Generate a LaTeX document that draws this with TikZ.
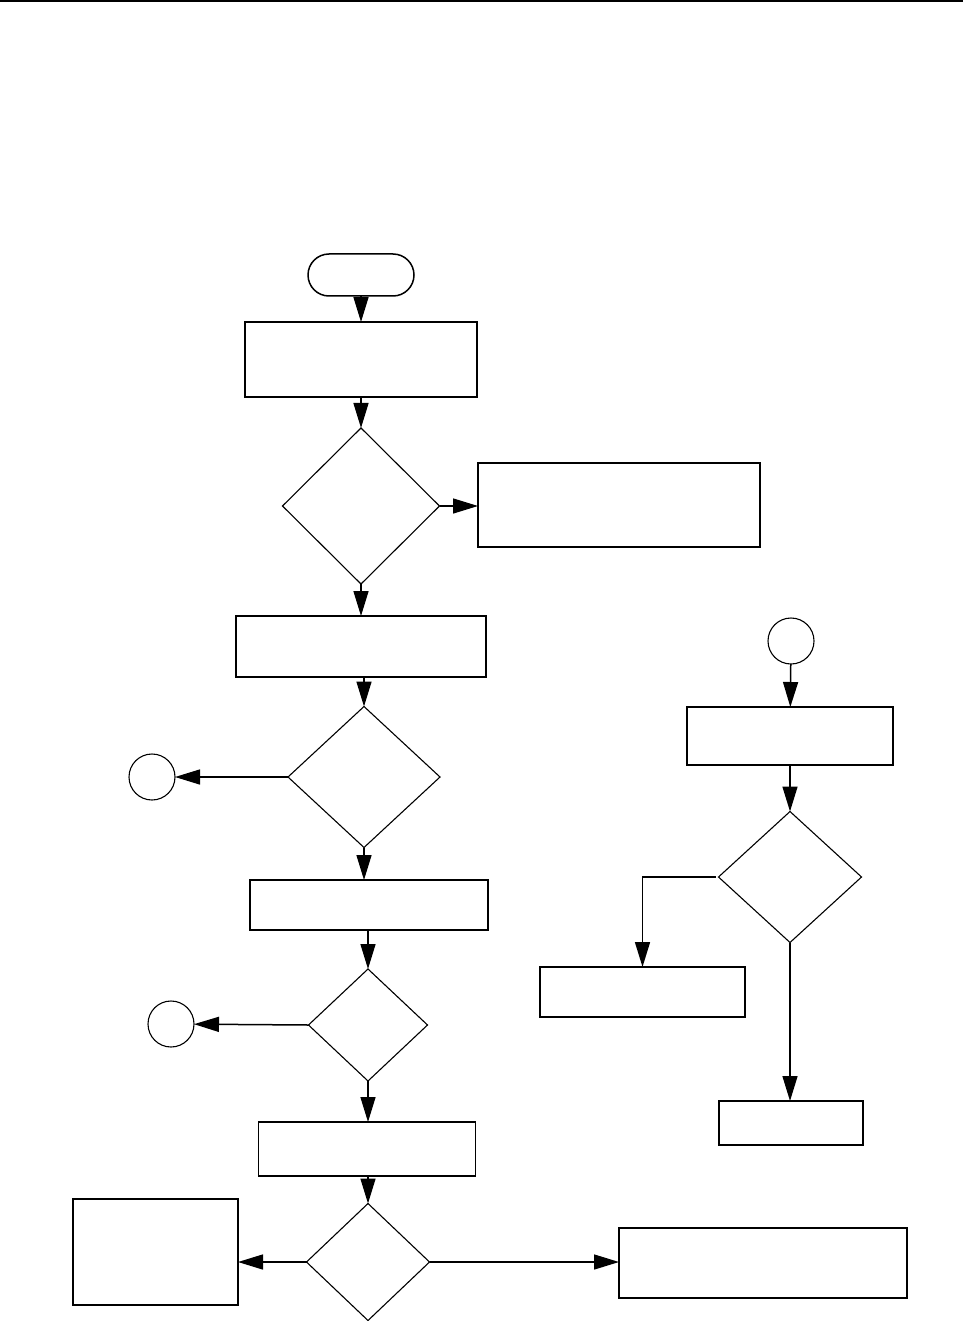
\documentclass[tikz,border=0pt]{standalone}
\usepackage{tikz}
\usetikzlibrary{arrows.meta}
\usetikzlibrary{shapes.geometric, shapes.misc}
\usetikzlibrary{positioning}

\begin{document}
\begin{tikzpicture}[x=1pt, y=-1pt,
        box/.style={draw, line width=1.5pt, inner sep=0pt, outer sep=0pt},
        test/.style={draw, diamond, line width=1.1pt, inner sep=0pt, outer sep=0pt},
        conn/.style={draw, circle, line width=1.1pt, inner sep=0pt, outer sep=0pt, minimum size=46pt},
        flow/.style={line width=1.5pt, -{Triangle[length=25pt, width=15pt]}}]
        \useasboundingbox (0,0) rectangle (963,1321);

        % Rule at the top of the page
        \draw[line width=1.8pt] (0,1) -- (963,1);

        % Start
        \node[draw, rounded rectangle, line width=1.5pt, inner sep=0pt, outer sep=0pt,
              minimum width=106pt, minimum height=42pt] (start) at (361,275) {};

        % Process boxes: name/x/y/width/height
        \foreach \nm/\x/\y/\w/\h in {b1/361/359.5/232/75, b2/619/505/282/84,
                b3/361/646.5/250/61, b4/369/905/238/50, b5/367/1149/217/54,
                b6/155.5/1252/165/106, b7/763/1263/288/70, b8/791/1123/144/44,
                b9/790/736/206/58, b10/642.5/992/205/50} {
            \node[box, minimum width=\w pt, minimum height=\h pt] (\nm) at (\x,\y) {};
        }

        % Decisions: name/x/y/width/height
        \foreach \nm/\x/\y/\w/\h in {d1/361/506/157/156, d2/364/777/152/141,
                d3/368/1025/119/112, d4/368/1262/123/117, d5/790/877/143/131} {
            \node[test, minimum width=\w pt, minimum height=\h pt] (\nm) at (\x,\y) {};
        }

        % Connectors
        \node[conn] (c1) at (152,777) {};
        \node[conn] (c2) at (171,1024) {};
        \node[conn] (c3) at (791,641) {};

        % Main column
        \draw[flow] (start) -- (b1);
        \draw[flow] (b1) -- (d1);
        \draw[flow] (d1) -- (b3);
        \draw[flow] (b3.south -| d2.north) -- (d2.north);
        \draw[flow] (d2.south) -- (d2.south |- b4.north);
        \draw[flow] (b4.south -| d3.north) -- (d3.north);
        \draw[flow] (d3.south) -- (d3.south |- b5.north);
        \draw[flow] (b5.south -| d4.north) -- (d4.north);

        % Side branches
        \draw[flow] (d1.east) -- (d1.east -| b2.west);
        \draw[flow] (d2.west) -- (c1);
        \draw[flow] (d3.west) -- (c2);
        \draw[flow] (d4.west) -- (d4.west -| b6.east);
        \draw[flow] (d4.east) -- (d4.east -| b7.west);

        % Right column
        \draw[flow] (c3) -- (b9);
        \draw[flow] (b9) -- (d5);
        \draw[flow, shorten <=3pt] (d5.west) -| (b10.north);
        \draw[flow] (d5.south) -- (d5.south |- b8.north);
\end{tikzpicture}
\end{document}
